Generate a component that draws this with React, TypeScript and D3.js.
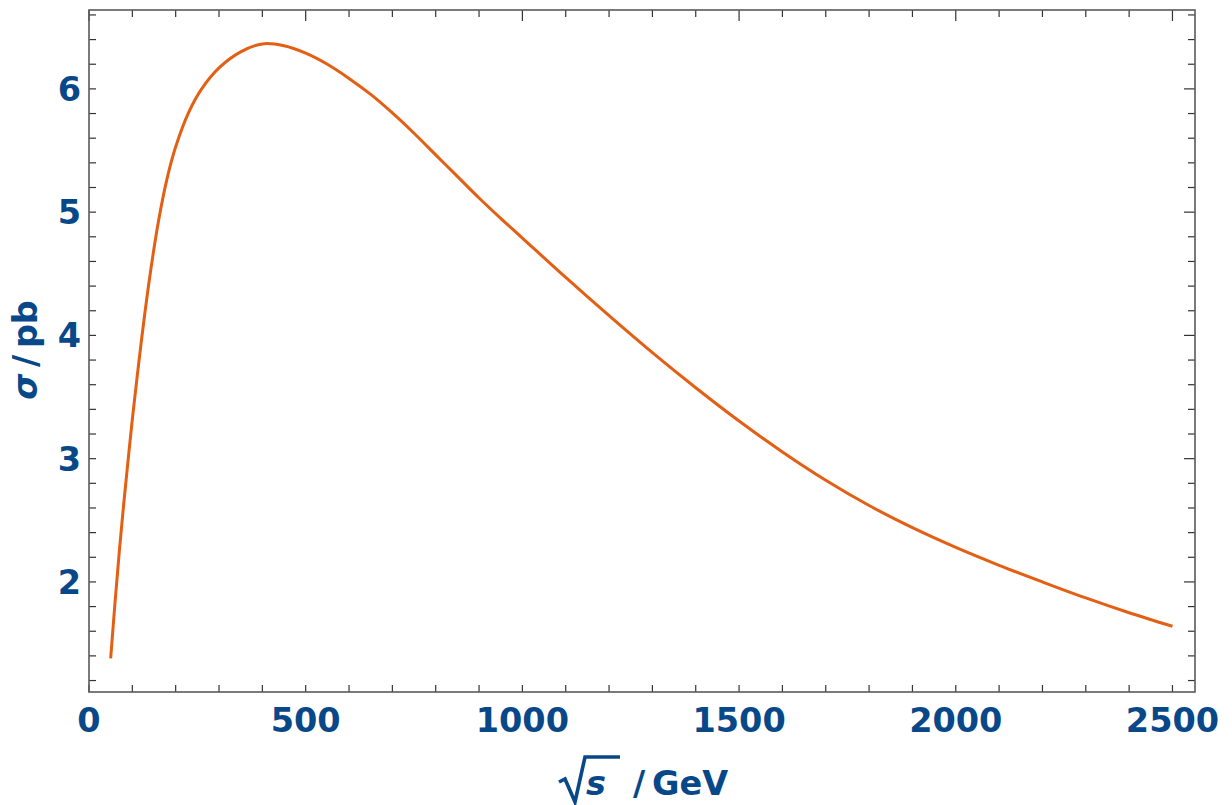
import React from "react";
import * as d3 from "d3";

const sqrtS = [50, 60, 70, 80, 90, 100, 120, 140, 160, 180, 200, 230, 260, 300, 350, 400, 450, 500, 550, 600, 650, 700, 750, 800, 850, 900, 950, 1000, 1100, 1200, 1300, 1400, 1500, 1600, 1700, 1800, 1900, 2000, 2100, 2200, 2300, 2400, 2500];
const sigma = [1.38, 1.83, 2.25, 2.63, 2.98, 3.32, 3.93, 4.47, 4.92, 5.27, 5.53, 5.81, 6.0, 6.17, 6.3, 6.365, 6.35, 6.29, 6.2, 6.085, 5.955, 5.805, 5.64, 5.465, 5.29, 5.115, 4.95, 4.79, 4.47, 4.16, 3.86, 3.575, 3.305, 3.055, 2.825, 2.62, 2.44, 2.28, 2.135, 2.0, 1.87, 1.75, 1.64];

const xMajor = [0, 500, 1000, 1500, 2000, 2500];
const yMajor = [2, 3, 4, 5, 6];
const xDomain: [number, number] = [0, 2552];
const yDomain: [number, number] = [1.107, 6.64];

const W = 1232, H = 805;
const L = 89, R = 1195, T = 10, B = 692;
const BLUE = "#084889";
const FONT = "'DejaVu Sans', sans-serif";

export default function App() {
  const x = d3.scaleLinear().domain(xDomain).range([L, R]);
  const y = d3.scaleLinear().domain(yDomain).range([B, T]);
  const pts = sqrtS.map((s, i) => [s, sigma[i]] as [number, number]);
  const line = d3.line<[number, number]>().x(d => x(d[0])).y(d => y(d[1])).curve(d3.curveCatmullRom.alpha(0.5));

  const xMinor = d3.range(0, 2551, 100);
  const yMinor = d3.range(1.2, 6.61, 0.2).map(v => Math.round(v * 10) / 10);
  const isXMajor = (v: number) => v % 500 === 0;
  const isYMajor = (v: number) => Math.abs(v - Math.round(v)) < 1e-6;
  const tc = "#333";

  return (
    <div style={{ position: "absolute", left: 0, top: 0 }}>
      <svg width={W} height={H} style={{ display: "block", background: "#fff" }}>
        {xMinor.map(v => (
          <g key={"xt" + v}>
            <line x1={x(v)} x2={x(v)} y1={B} y2={B - 7} stroke={tc} strokeWidth={1.2} />
            <line x1={x(v)} x2={x(v)} y1={T} y2={T + (isXMajor(v) ? 11 : 7)} stroke={tc} strokeWidth={1.2} />
          </g>
        ))}
        {yMinor.map(v => (
          <g key={"yt" + v}>
            <line x1={L} x2={L + 7} y1={y(v)} y2={y(v)} stroke={tc} strokeWidth={1.2} />
            <line x1={R} x2={R - (isYMajor(v) ? 11 : 7)} y1={y(v)} y2={y(v)} stroke={tc} strokeWidth={1.2} />
          </g>
        ))}
        <rect x={L} y={T} width={R - L} height={B - T} fill="none" stroke="#5a5a5a" strokeWidth={1.6} />
        <path d={line(pts) || ""} fill="none" stroke="#e35f14" strokeWidth={3} strokeLinejoin="round" />
        {xMajor.map(v => (
          <text key={"xl" + v} x={x(v)} y={732} textAnchor="middle" fill={BLUE} fontFamily={FONT} fontWeight="bold" fontSize={33.5}>{v}</text>
        ))}
        {yMajor.map(v => (
          <text key={"yl" + v} x={81} y={y(v)} dy="0.36em" textAnchor="end" fill={BLUE} fontFamily={FONT} fontWeight="bold" fontSize={33.5}>{v}</text>
        ))}
        <text transform="translate(37,350) rotate(-90)" textAnchor="middle" fill={BLUE} fontFamily={FONT} fontWeight="bold" fontSize={33.5}>
          <tspan fontStyle="italic">σ</tspan>
          <tspan>{"\u2009/\u2009pb"}</tspan>
        </text>
        <path d="M559,782 L565,779 L575,802 L585,757 L620,757" fill="none" stroke={BLUE} strokeWidth={3.6} strokeLinejoin="miter" />
        <text x={586} y={795} fill={BLUE} fontFamily={FONT} fontWeight="bold" fontStyle="italic" fontSize={33.5}>s</text>
        <text x={633} y={795} fill={BLUE} fontFamily={FONT} fontWeight="bold" fontSize={33.5}>{"/\u2009GeV"}</text>
      </svg>
    </div>
  );
}
